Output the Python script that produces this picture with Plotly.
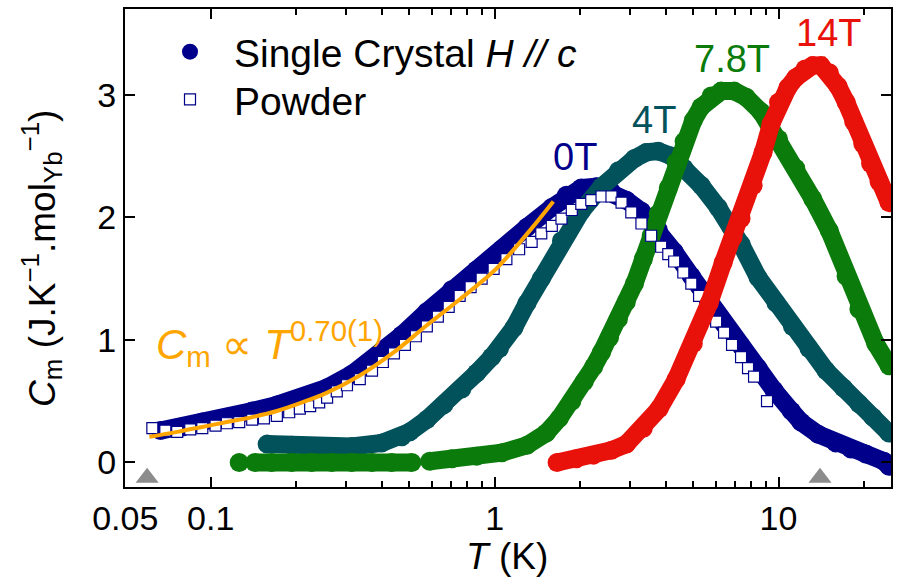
import math
import plotly.graph_objects as go

# ---------------- data ----------------
# Single crystal, H // c, 0 T
T_0T = [0.0665, 0.0794, 0.0934, 0.114, 0.140, 0.171, 0.210, 0.257, 0.314, 0.385, 0.471, 0.577,
        0.706, 0.864, 1.06, 1.30, 1.59, 1.79, 2.02, 2.28, 2.58, 2.91, 3.29, 3.77, 4.29, 4.93,
        5.65, 6.43, 7.38, 8.47, 9.64, 11.1, 12.0, 13.8, 15.9, 18.0, 20.3, 23.5, 24.5]
C_0T = [0.26, 0.29, 0.33, 0.37, 0.42, 0.47, 0.53, 0.61, 0.72, 0.87, 1.04, 1.23,
        1.41, 1.57, 1.74, 1.92, 2.08, 2.18, 2.24, 2.25, 2.21, 2.14, 2.05, 1.90, 1.72, 1.52,
        1.32, 1.13, 0.95, 0.77, 0.59, 0.42, 0.33, 0.23, 0.16, 0.11, 0.07, 0.01, -0.03]

# 4 T
T_4T = [0.158, 0.193, 0.246, 0.314, 0.401, 0.471, 0.503, 0.577, 0.662, 0.766, 0.864, 0.976, 1.04,
        1.17, 1.30, 1.46, 1.72, 2.02, 2.38, 2.73, 3.11, 3.42, 3.77, 4.19, 4.65, 5.34, 6.13,
        6.81, 7.38, 8.47, 9.80, 11.2, 12.8, 14.7, 16.9, 19.2, 21.5, 24.5]
C_4T = [0.15, 0.14, 0.12, 0.13, 0.16, 0.21, 0.25, 0.35, 0.47, 0.60, 0.73, 0.86, 0.93,
        1.10, 1.30, 1.50, 1.81, 2.05, 2.25, 2.38, 2.48, 2.53, 2.54, 2.50, 2.40, 2.26, 2.08,
        1.92, 1.78, 1.51, 1.30, 1.11, 0.93, 0.75, 0.61, 0.48, 0.37, 0.24]

# 7.8 T
T_78T = [0.126, 0.143, 0.164, 0.193, 0.227, 0.267, 0.314, 0.370, 0.434, 0.511,
         0.591, 0.706, 0.864, 1.06, 1.30, 1.52, 1.69, 1.87, 2.07, 2.23, 2.38, 2.54, 2.73,
         2.91, 3.11, 3.34, 3.56, 3.77, 4.09, 4.36, 4.65, 5.01, 5.34, 5.79, 6.28, 6.98,
         7.69, 8.68, 10.0, 11.5, 13.2, 15.1, 17.3, 19.2, 22.0, 24.5]
C_78T = [0.00, 0.00, 0.00, 0.00, 0.00, 0.00, 0.00, 0.00, 0.00, 0.00,
         0.01, 0.03, 0.05, 0.08, 0.14, 0.24, 0.36, 0.50, 0.66, 0.78, 0.90, 1.02, 1.17,
         1.31, 1.46, 1.66, 1.85, 2.03, 2.24, 2.45, 2.62, 2.79, 2.90, 2.99, 3.03, 3.03,
         2.98, 2.86, 2.64, 2.40, 2.15, 1.89, 1.52, 1.25, 0.97, 0.79]
BREAKS_78T = [0, 9]   # gaps in the data after these indices (joined by a thin line)

# 14 T
T_14T = [1.66, 1.94, 2.23, 2.58, 2.91, 3.34, 3.80, 4.36, 5.01, 5.70, 6.38, 6.92, 7.38, 8.14,
         8.82, 9.41, 10.0, 10.8, 11.5, 12.4, 13.2, 14.1, 15.1, 16.2, 17.3, 18.4, 19.8, 21.1,
         22.6, 24.5]
C_14T = [0.00, 0.03, 0.06, 0.10, 0.15, 0.28, 0.44, 0.68, 0.97, 1.30, 1.63, 1.84, 1.99, 2.26,
         2.53, 2.76, 2.94, 3.06, 3.14, 3.21, 3.24, 3.24, 3.18, 3.07, 2.94, 2.78, 2.60, 2.44,
         2.29, 2.12]

# Powder
T_PW = [0.0623, 0.0692, 0.0762, 0.0847, 0.0934, 0.104, 0.114, 0.126, 0.140, 0.154, 0.171,
        0.189, 0.206, 0.224, 0.241, 0.257, 0.278, 0.302, 0.335, 0.370, 0.404, 0.442, 0.483,
        0.528, 0.577, 0.631, 0.689, 0.753, 0.823, 0.900, 0.992, 1.10, 1.22, 1.35, 1.46,
        1.59, 1.72, 1.87, 2.02, 2.19, 2.38, 2.58, 2.80, 3.03, 3.29, 3.56, 3.86, 4.09, 4.29,
        4.62, 4.93, 5.25, 5.65, 6.03, 6.43, 6.86, 7.38, 7.81, 8.20, 9.11]
C_PW = [0.28, 0.26, 0.25, 0.27, 0.28, 0.30, 0.32, 0.33, 0.35, 0.36, 0.38,
        0.41, 0.44, 0.46, 0.49, 0.53, 0.58, 0.63, 0.68, 0.75, 0.82, 0.89, 0.96,
        1.03, 1.11, 1.19, 1.27, 1.36, 1.43, 1.50, 1.58, 1.66, 1.74, 1.80, 1.87,
        1.93, 1.99, 2.06, 2.11, 2.14, 2.17, 2.17, 2.12, 2.04, 1.95, 1.85, 1.76, 1.70, 1.64,
        1.55, 1.46, 1.36, 1.25, 1.15, 1.06, 0.96, 0.86, 0.77, 0.70, 0.50]

# Power-law fit line C_m ~ T^0.70
T_FIT = [0.0608, 0.0762, 0.0934, 0.114, 0.140, 0.171, 0.210, 0.257, 0.335, 0.442, 0.577,
         0.753, 0.992, 1.15, 1.35, 1.61]
C_FIT = [0.21, 0.25, 0.29, 0.33, 0.37, 0.42, 0.49, 0.57, 0.71, 0.90, 1.12,
         1.33, 1.56, 1.72, 1.91, 2.13]

# Grey triangles on the temperature axis
T_TRI = [0.0597, 14.0]
C_TRI = [-0.125, -0.125]

TICK_T = [0.05, 0.1, 1, 10]
TICK_T_TEXT = ["0.05", "0.1", "1", "10"]
MINOR_T = [0.2, 0.3, 0.4, 0.5, 0.6, 0.7, 0.8, 0.9, 2, 3, 4, 5, 6, 7, 8, 9, 20]
TICK_C = [0, 1, 2, 3]

NAVY = "#00008B"
TEAL = "#02525C"
GREEN = "#0B7B0B"
RED = "#E8120A"
ORANGE = "#FFA500"
FONT = "Liberation Sans, Arial, sans-serif"

BAND_W = 18
MSIZE = 19


def with_breaks(xs, ys, breaks):
    bx, by = [], []
    for i, (x, y) in enumerate(zip(xs, ys)):
        bx.append(x)
        by.append(y)
        if i in breaks:
            bx.append(None)
            by.append(None)
    return bx, by


fig = go.Figure()


def add_sc(T, C, color, breaks=(), legend=False):
    # thin connecting line
    fig.add_trace(go.Scatter(x=T, y=C, mode="lines", line=dict(color=color, width=1.5),
                             showlegend=False, hoverinfo="skip"))
    bx, by = with_breaks(T, C, breaks)
    fig.add_trace(go.Scatter(x=bx, y=by, mode="lines", line=dict(color=color, width=BAND_W),
                             showlegend=False, hoverinfo="skip"))
    fig.add_trace(go.Scatter(x=T, y=C, mode="markers",
                             marker=dict(symbol="circle", size=MSIZE, color=color),
                             name="Single Crystal <i>H // c</i>", showlegend=legend,
                             legend="legend"))


add_sc(T_0T, C_0T, NAVY, legend=True)
add_sc(T_4T, C_4T, TEAL)
add_sc(T_78T, C_78T, GREEN, breaks=BREAKS_78T)

fig.add_trace(go.Scatter(x=T_PW, y=C_PW, mode="markers", name="Powder", legend="legend2",
                         marker=dict(symbol="square", size=11, color="white",
                                     line=dict(color=NAVY, width=1.2))))

add_sc(T_14T, C_14T, RED)

fig.add_trace(go.Scatter(x=T_FIT, y=C_FIT, mode="lines", line=dict(color=ORANGE, width=4, shape="spline"),
                         showlegend=False, hoverinfo="skip"))

fig.add_trace(go.Scatter(x=T_TRI, y=C_TRI, mode="markers", showlegend=False,
                         marker=dict(symbol="triangle-up", size=20, color="#8C8C8C")))

L, R, T, B = 125, 13, 7, 97
W, H = 904, 584
PW, PH = W - L - R, H - T - B


def px(xp):
    return (xp - L) / PW


def py(yp):
    return 1 - (yp - T) / PH


labels = [("0T", 575, 156, NAVY), ("4T", 654, 118, TEAL), ("7.8T", 732, 57, GREEN), ("14T", 828, 31, RED)]
for txt, xp, yp, col in labels:
    fig.add_annotation(text=txt, x=px(xp), y=py(yp), xref="paper", yref="paper",
                       showarrow=False, xanchor="center", yanchor="middle",
                       font=dict(family=FONT, size=38, color=col))

fig.add_annotation(text="<i>C</i><sub>m</sub> ∝ <i>T</i><sup>0.70(1)</sup>",
                   x=px(154), y=py(343), xref="paper", yref="paper", showarrow=False,
                   xanchor="left", yanchor="middle",
                   font=dict(family=FONT, size=42, color=ORANGE))

fig.add_annotation(text="<i>T</i> (K)", x=px(507), y=py(557), xref="paper", yref="paper",
                   showarrow=False, xanchor="center", yanchor="middle",
                   font=dict(family=FONT, size=37, color="black"))
fig.add_annotation(text="<i>C</i><sub>m</sub> (J.K<sup>−1</sup>.mol<sub>Yb</sub><sup>−1</sup>)",
                   x=px(42), y=py(258), xref="paper", yref="paper", textangle=-90,
                   showarrow=False, xanchor="center", yanchor="middle",
                   font=dict(family=FONT, size=37, color="black"))

LEG = dict(xanchor="left", yanchor="middle", bgcolor="rgba(0,0,0,0)",
           font=dict(family=FONT, size=39, color="black"), itemsizing="trace",
           itemwidth=78, borderwidth=0)

fig.update_layout(
    width=W, height=H,
    margin=dict(l=L, r=R, t=T, b=B),
    paper_bgcolor="white", plot_bgcolor="white",
    font=dict(family=FONT, size=34, color="black"),
    legend=dict(x=px(146), y=py(50), **LEG),
    legend2=dict(x=px(146), y=py(98), **LEG),
    xaxis=dict(type="log", range=[math.log10(0.0499), math.log10(24.9)],
               tickmode="array", tickvals=TICK_T, ticktext=TICK_T_TEXT,
               ticks="inside", ticklen=10, tickwidth=2, tickcolor="black",
               showline=True, linecolor="black", linewidth=2, mirror="allticks",
               showgrid=False, zeroline=False,
               tickfont=dict(family=FONT, size=34, color="black"),
               minor=dict(tickmode="array", tickvals=MINOR_T, ticks="inside", ticklen=6,
                          tickwidth=1.5, tickcolor="black", showgrid=False)),
    yaxis=dict(range=[-0.2, 3.7], tickmode="array", tickvals=TICK_C,
               ticks="inside", ticklen=10, tickwidth=2, tickcolor="black",
               showline=True, linecolor="black", linewidth=2, mirror="allticks",
               showgrid=False, zeroline=False,
               tickfont=dict(family=FONT, size=34, color="black")),
)

fig.write_html("out.html")
